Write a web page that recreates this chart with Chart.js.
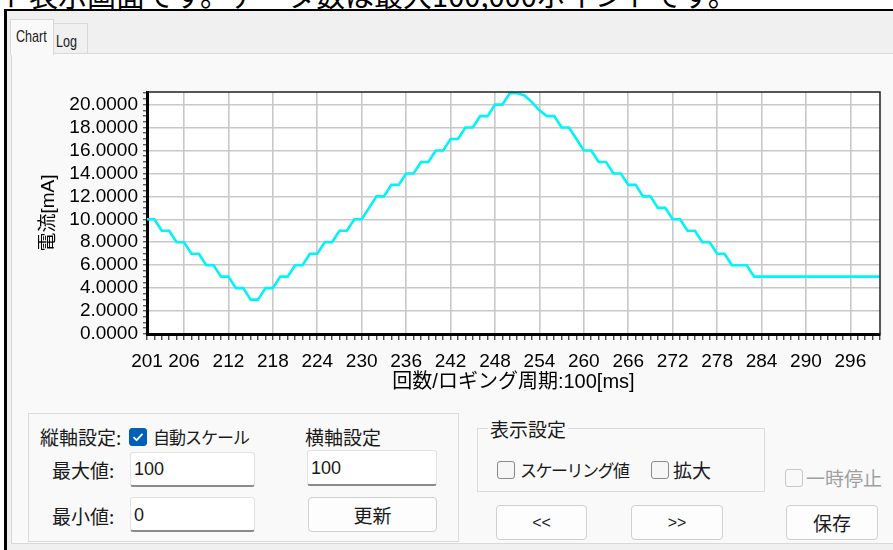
<!DOCTYPE html>
<html lang="ja">
<head>
<meta charset="utf-8">
<title>Chart</title>
<script src="https://cdn.jsdelivr.net/npm/chart.js@4.4.1/dist/chart.umd.min.js"></script>
<style>
  html, body { margin: 0; padding: 0; }
  body {
    width: 893px; height: 550px; overflow: hidden; position: relative;
    background: #fff; font-family: "Noto Sans CJK JP", sans-serif; color: #1a1a1a;
  }
  .abs { position: absolute; }
  .lbl { position: absolute; font-size: 19px; line-height: 20px; white-space: nowrap; }
  #note { left: 0; top: -20px; font-size: 29px; line-height: 29px; white-space: nowrap; color: #000; }
  #frame { left: 4px; top: 9px; width: 895px; height: 545px; border-top: 2px solid #000; border-left: 3px solid #000; background: #f0f0f0; }
  .tab { position: absolute; font-family: "Liberation Sans", sans-serif; font-size: 17px; line-height: 17px; border: 1px solid #d9d9d9; border-bottom: none; }
  .tab span { transform: scaleX(0.74); transform-origin: left center; white-space: nowrap; }
  #tabChart { left: 10px; top: 19px; width: 42px; height: 35px; background: #f9f9f9; z-index: 2; }
  #tabLog { left: 52px; top: 23px; width: 35px; height: 30px; background: #f0f0f0; border-left: none; }
  #panel { left: 11px; top: 53px; width: 890px; height: 489px; background: #f9f9f9; border: 1px solid #d9d9d9; }
  #chartBox { left: 20px; top: 56px; width: 873px; height: 340px; }
  .group { position: absolute; border: 1px solid #dcdcdc; }
  .input { position: absolute; background: #fff; border: 1px solid #e3e3e3; border-bottom: 2px solid #8a8a8a; border-radius: 3px;
           font-family: "Liberation Sans", sans-serif; font-size: 18px; box-sizing: border-box; padding-left: 3px; }
  .btn { position: absolute; background: #fdfdfd; border: 1px solid #d0d0d0; border-radius: 4px; box-sizing: border-box;
         font-size: 19px; text-align: center; }
  .cb { position: absolute; width: 18px; height: 18px; box-sizing: border-box; border: 1px solid #8a8a8a; border-radius: 3px; background: #f6f6f6; }
  .cb.on { background: #005fb8; border-color: #005fb8; }
  .cb.off { border-color: #c8c8c8; background: #f9f9f9; }
</style>
</head>
<body>
<div id="note" class="abs">ト表示画面です。データ数は最大100,000ポイントです。</div>
<div id="frame" class="abs"></div>
<div id="tabLog" class="tab"><span class="abs" style="left:4px; top:9px;">Log</span></div>
<div id="tabChart" class="tab"><span class="abs" style="left:5px; top:8px;">Chart</span></div>
<div id="panel" class="abs"></div>
<div id="chartBox" class="abs"><canvas id="chart" width="873" height="340"></canvas></div>

<!-- 縦軸設定 / 横軸設定 -->
<div class="group" style="left:28px; top:413px; width:429px; height:127px;"></div>
<div class="lbl" style="left:40px; top:427px;">縦軸設定:</div>
<div class="cb on" style="left:129px; top:428px;">
  <svg width="16" height="16" viewBox="0 0 16 16" style="position:absolute; left:0; top:0;"><path d="M3.5 8.2 L6.6 11.2 L12.5 4.8" fill="none" stroke="#fff" stroke-width="1.8"/></svg>
</div>
<div class="lbl" style="left:153px; top:427px; font-size:17px; letter-spacing:-1px;">自動スケール</div>
<div class="lbl" style="left:52px; top:460px;">最大値:</div>
<div class="input" style="left:130px; top:452px; width:125px; height:35px; line-height:33px;">100</div>
<div class="lbl" style="left:52px; top:506px;">最小値:</div>
<div class="input" style="left:130px; top:497px; width:125px; height:35px; line-height:35px;">0</div>
<div class="lbl" style="left:305px; top:427px;">横軸設定</div>
<div class="input" style="left:307px; top:450px; width:130px; height:36px; line-height:34px;">100</div>
<div class="btn" style="left:308px; top:497px; width:129px; height:35px; line-height:33px;">更新</div>

<!-- 表示設定 -->
<div class="group" style="left:477px; top:428px; width:286px; height:62px;"></div>
<div class="lbl" style="left:488px; top:419px; background:#f9f9f9; padding:0 2px;">表示設定</div>
<div class="cb" style="left:497px; top:461px;"></div>
<div class="lbl" style="left:520px; top:460px; font-size:17px; letter-spacing:-1.5px;">スケーリング値</div>
<div class="cb" style="left:651px; top:461px;"></div>
<div class="lbl" style="left:673px; top:460px;">拡大</div>
<div class="cb off" style="left:785px; top:469px;"></div>
<div class="lbl" style="left:806px; top:468px; color:#a0a0a0;">一時停止</div>

<div class="btn" style="left:496px; top:505px; width:91px; height:35px; line-height:33px; font-size:16px; font-family:'Liberation Sans', sans-serif;">&lt;&lt;</div>
<div class="btn" style="left:631px; top:505px; width:92px; height:35px; line-height:33px; font-size:16px; font-family:'Liberation Sans', sans-serif;">&gt;&gt;</div>
<div class="btn" style="left:786px; top:505px; width:92px; height:35px; line-height:33px;">保存</div>

<script>
"use strict"

// 回数の範囲 (横軸 100 点)
const firstCount = 201;
const lastCount = 300;

// 電流値 [mA]、201 回目から 300 回目まで
const currentValues = [
    10, 10, 9, 9, 8, 8, 7, 7, 6, 6,               // 201-210
    5, 5, 4, 4, 3, 3, 4, 4, 5, 5,                 // 211-220
    6, 6, 7, 7, 8, 8, 9, 9, 10, 10,               // 221-230
    11, 12, 12, 13, 13, 14, 14, 15, 15, 16,       // 231-240
    16, 17, 17, 18, 18, 19, 19, 20, 20, 21,       // 241-250
    21, 20.8, 20.2, 19.5, 19, 19, 18, 18, 17, 16, // 251-260
    16, 15, 15, 14, 14, 13, 13, 12, 12, 11,       // 261-270
    11, 10, 10, 9, 9, 8, 8, 7, 7, 6,              // 271-280
    6, 6, 5, 5, 5, 5, 5, 5, 5, 5,                 // 281-290
    5, 5, 5, 5, 5, 5, 5, 5, 5, 5                  // 291-300
];

// 目盛りラベル
const xTickLabels = [201, 206, 212, 218, 224, 230, 236, 242, 248, 254, 260, 266, 272, 278, 284, 290, 296];
const yTickLabels = [0, 2, 4, 6, 8, 10, 12, 14, 16, 18, 20];
const yMax = 21.1;

Chart.defaults.font.family = '"Liberation Sans", "Noto Sans CJK JP", sans-serif';

// プロット領域の白背景と上・右の枠線
const plotFrame = {
    id: 'plotFrame',
    beforeDraw(chart) {
        const {ctx, chartArea: a} = chart;
        ctx.save();
        ctx.fillStyle = '#ffffff';
        ctx.fillRect(a.left, a.top, a.right - a.left, a.bottom - a.top);
        ctx.restore();
    },
    afterDraw(chart) {
        const {ctx, chartArea: a} = chart;
        ctx.save();
        ctx.strokeStyle = '#202020';
        ctx.lineWidth = 1.5;
        ctx.beginPath();
        ctx.moveTo(a.left, a.top);
        ctx.lineTo(a.right, a.top);
        ctx.lineTo(a.right, a.bottom);
        ctx.stroke();
        ctx.restore();
    }
};

function showChart() {
    const points = currentValues.map((v, i) => ({x: firstCount + i, y: v}));

    new Chart(document.getElementById('chart'), {
        type: 'line',
        data: {
            datasets: [{
                data: points,
                borderColor: '#00f4f8',
                borderWidth: 2.6,
                pointRadius: 0,
                tension: 0,
                fill: false
            }]
        },
        options: {
            responsive: false,
            animation: false,
            layout: { padding: { top: 36, right: 13, left: 0, bottom: 0 } },
            plugins: { legend: { display: false }, tooltip: { enabled: false } },
            scales: {
                x: {
                    type: 'linear',
                    min: firstCount,
                    max: lastCount,
                    afterBuildTicks(scale) {
                        const t = [];
                        for (let c = firstCount; c <= lastCount; c++) t.push({value: c});
                        scale.ticks = t;
                    },
                    afterFit(scale) { scale.height = 62; },
                    ticks: {
                        autoSkip: false, maxRotation: 0, minRotation: 0, padding: 10,
                        color: '#000', font: { size: 19 },
                        callback: (v) => xTickLabels.includes(v) ? String(v) : ''
                    },
                    grid: {
                        color: (c) => (c.tick && xTickLabels.includes(c.tick.value)) ? '#c8c8c8' : 'rgba(0,0,0,0)',
                        lineWidth: 1.6, tickColor: '#000', tickLength: 6, tickWidth: 1
                    },
                    border: { color: '#000', width: 3 },
                    title: {
                        display: true, text: '回数/ロギング周期:100[ms]', color: '#000',
                        font: { size: 20 }, padding: { top: 0, bottom: 2 }
                    }
                },
                y: {
                    min: 0,
                    max: yMax,
                    afterBuildTicks(scale) {
                        const t = [];
                        for (let k = 0; k <= 42; k++) t.push({value: k / 2});
                        scale.ticks = t;
                    },
                    afterFit(scale) { scale.width = 127; },
                    ticks: {
                        autoSkip: false, padding: 5, color: '#000', font: { size: 19 },
                        callback: (v) => yTickLabels.includes(v) ? v.toFixed(4) : ''
                    },
                    grid: {
                        color: (c) => (c.tick && yTickLabels.includes(c.tick.value)) ? '#c8c8c8' : 'rgba(0,0,0,0)',
                        lineWidth: 1.6, tickColor: '#222', tickLength: 4, tickWidth: 1
                    },
                    border: { color: '#000', width: 3 },
                    title: {
                        display: true, text: '電流[mA]', color: '#000',
                        font: { size: 19 }, padding: { top: 17, bottom: 0 }
                    }
                }
            }
        },
        plugins: [plotFrame]
    });
}

showChart();
</script>
</body>
</html>
